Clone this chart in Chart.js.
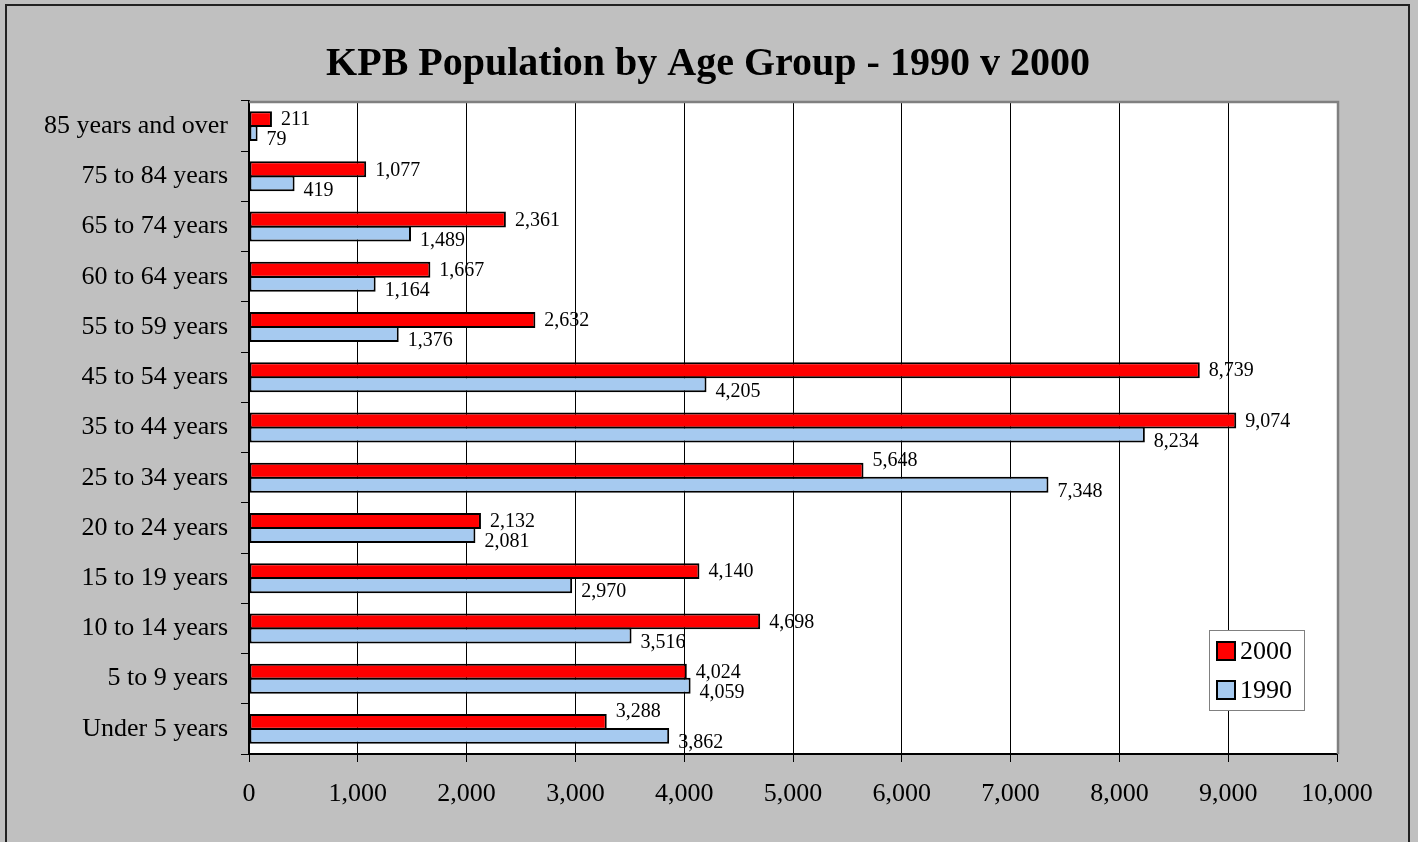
<!DOCTYPE html>
<html>
<head>
<meta charset="utf-8">
<script src="https://cdn.jsdelivr.net/npm/chart.js@4/dist/chart.umd.min.js"></script>
<style>
  html, body { margin: 0; padding: 0; background: #c0c0c0; }
  #c { display: block; }
</style>
</head>
<body>
<canvas id="c" width="1418" height="842"></canvas>
<script>
// values, top row first
const ageGroups = [
    "85 years and over", "75 to 84 years", "65 to 74 years", "60 to 64 years",
    "55 to 59 years", "45 to 54 years", "35 to 44 years", "25 to 34 years",
    "20 to 24 years", "15 to 19 years", "10 to 14 years", "5 to 9 years", "Under 5 years"
];
const pop2000 = [211, 1077, 2361, 1667, 2632, 8739, 9074, 5648, 2132, 4140, 4698, 4024, 3288];
const pop1990 = [79, 419, 1489, 1164, 1376, 4205, 8234, 7348, 2081, 2970, 3516, 4059, 3862];
const seriesNames = ["2000", "1990"];
const seriesColors = ["#ff0000", "#a6caf0"];
const xMin = 0, xMax = 10000, xStep = 1000;
const chartTitle = 'KPB Population by Age Group - 1990 v 2000';

const serif = '"Liberation Serif", "Times New Roman", serif';
const fmt = v => v.toLocaleString('en-US');

// grey page, outer frame, title and white plot area
const backdrop = {
    id: 'backdrop',
    beforeDraw(chart) {
        const {ctx, chartArea: a} = chart;
        ctx.save();
        ctx.fillStyle = '#c0c0c0';
        ctx.fillRect(0, 0, chart.width, chart.height);
        ctx.strokeStyle = '#222';
        ctx.lineWidth = 2;
        ctx.strokeRect(6, 5, 1403, 900);
        ctx.fillStyle = '#fff';
        ctx.fillRect(a.left, a.top, a.right - a.left, a.bottom - a.top);
        // title is centred on the frame, not on the plot
        ctx.fillStyle = '#000';
        ctx.font = 'bold 40px ' + serif;
        ctx.textAlign = 'center';
        ctx.textBaseline = 'middle';
        ctx.fillText(chartTitle, 708, 65);
        ctx.restore();
    },
    afterDraw(chart) {
        const {ctx, chartArea: a} = chart;
        ctx.save();
        ctx.strokeStyle = '#808080';
        ctx.lineWidth = 2.5;
        ctx.beginPath();
        ctx.moveTo(a.left, a.top + 1);
        ctx.lineTo(a.right + 1, a.top + 1);
        ctx.lineTo(a.right + 1, a.bottom);
        ctx.stroke();
        ctx.restore();
    }
};

// value labels at the bar ends
const barLabels = {
    id: 'barLabels',
    afterDatasetsDraw(chart) {
        const ctx = chart.ctx;
        const top = chart.getDatasetMeta(0).data;
        const low = chart.getDatasetMeta(1).data;
        const d0 = chart.data.datasets[0].data;
        const d1 = chart.data.datasets[1].data;
        ctx.save();
        ctx.font = '20px ' + serif;
        ctx.fillStyle = '#000';
        ctx.textAlign = 'left';
        ctx.textBaseline = 'middle';
        top.forEach((bar, i) => {
            let y = bar.y + 1;
            // lift the label when the bar below runs past it
            if (low[i].x > bar.x + 9) y -= 11;
            ctx.fillText(fmt(d0[i]), bar.x + 9, y);
            ctx.fillText(fmt(d1[i]), low[i].x + 9, low[i].y + 7);
        });
        ctx.restore();
    }
};

// boxed legend inside the plot, bottom right
const boxLegend = {
    id: 'boxLegend',
    afterDraw(chart) {
        const ctx = chart.ctx;
        const bx = 1209, by = 630, bw = 95, bh = 80;
        ctx.save();
        ctx.fillStyle = '#fff';
        ctx.fillRect(bx, by, bw, bh);
        ctx.strokeStyle = '#808080';
        ctx.lineWidth = 1;
        ctx.strokeRect(bx + 0.5, by + 0.5, bw, bh);
        ctx.font = '26px ' + serif;
        ctx.textBaseline = 'middle';
        ctx.textAlign = 'left';
        chart.data.datasets.forEach((ds, i) => {
            const cy = by + 21 + i * 39;
            ctx.fillStyle = ds.backgroundColor;
            ctx.fillRect(bx + 8, cy - 9, 18, 18);
            ctx.strokeStyle = '#000';
            ctx.lineWidth = 2;
            ctx.strokeRect(bx + 8, cy - 9, 18, 18);
            ctx.fillStyle = '#000';
            ctx.fillText(ds.label, bx + 31, cy + 1);
        });
        ctx.restore();
    }
};

new Chart(document.getElementById('c'), {
    type: 'bar',
    data: {
        labels: ageGroups,
        datasets: [pop2000, pop1990].map((d, i) => ({
            label: seriesNames[i],
            data: d,
            backgroundColor: seriesColors[i],
            borderColor: '#000',
            borderWidth: 2,
            borderSkipped: false,
            barPercentage: 1.13,
            categoryPercentage: 0.56,
        })),
    },
    options: {
        indexAxis: 'y',
        responsive: false,
        animation: false,
        devicePixelRatio: 1,
        layout: { padding: { left: 0, right: 81, top: 101, bottom: 0 } },
        plugins: {
            legend: { display: false },
            tooltip: { enabled: false },
            title: { display: false },
        },
        scales: {
            x: {
                min: xMin,
                max: xMax,
                afterFit: s => { s.height = 88; },
                ticks: {
                    stepSize: xStep,
                    color: '#000',
                    font: { family: serif, size: 26 },
                    padding: 17,
                    maxRotation: 0,
                    callback: v => fmt(v),
                },
                grid: { color: '#000', lineWidth: 1, tickLength: 8 },
                border: { color: '#000', width: 2 },
            },
            y: {
                afterFit: s => { s.width = 249; },
                ticks: {
                    color: '#000',
                    font: { family: serif, size: 26 },
                    padding: 13,
                    autoSkip: false,
                },
                grid: { offset: true, drawOnChartArea: false, color: '#000', lineWidth: 1, tickLength: 8 },
                border: { color: '#000', width: 2 },
            },
        },
    },
    plugins: [backdrop, barLabels, boxLegend],
});
</script>
</body>
</html>
